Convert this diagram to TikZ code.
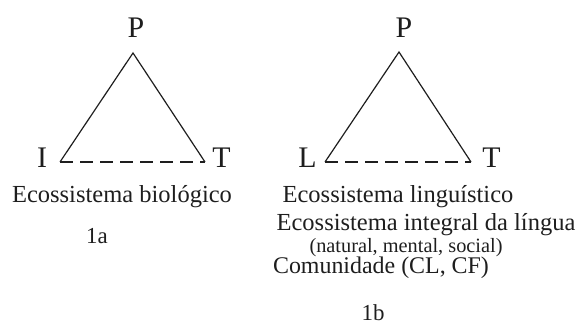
\documentclass[tikz,border=0pt]{standalone}
\usepackage{fontspec}
\setmainfont{Liberation Serif}
\usepackage{tikz}
\usetikzlibrary{positioning}
\usepackage{xcolor}
\definecolor{ink}{RGB}{30,30,30}

\begin{document}
\begin{tikzpicture}[
    x=1bp, y=1bp,
    vlabel/.style={inner sep=0pt, text=ink, font=\fontsize{15}{17}\selectfont},
    caption/.style={inner sep=0pt, anchor=base, text=ink, font=\fontsize{12.3}{14}\selectfont},
    small/.style={inner sep=0pt, anchor=base, text=ink, font=\fontsize{10.2}{12}\selectfont},
    tag/.style={inner sep=0pt, anchor=base, text=ink, font=\fontsize{11.5}{13}\selectfont},
    side/.style={draw=ink, line width=0.6bp},
    base/.style={draw=ink, line width=0.6bp, dash pattern=on 6.5bp off 3.5bp}
]
    \useasboundingbox (0,0) rectangle (291,161.5);

    % 1a: ecossistema biologico
    \coordinate (pa) at (66.5,135);
    \coordinate (ia) at (30,80.5);
    \coordinate (ta) at (102.5,80.5);
    \node[vlabel, anchor=base] (lpa) at (68,143) {P};
    \node[vlabel, anchor=base east] (lia) at (23.8,78) {I};
    \node[vlabel, anchor=base west] (lta) at (106,78) {T};
    \node[caption] (bio) at (61,60.5) {Ecossistema biológico};
    \node[tag] (ca) at (48.5,40) {1a};

    \draw[side] (ia) -- (pa) -- (ta);
    \draw[base] (ia) -- (ta);

    % 1b: ecossistema linguistico
    \coordinate (pb) at (199.5,135.5);
    \coordinate (lb) at (162.5,80.5);
    \coordinate (tb) at (235.5,80.5);
    \node[vlabel, anchor=base] (lpb) at (202,143) {P};
    \node[vlabel, anchor=base east] (llb) at (158.5,78) {L};
    \node[vlabel, anchor=base west] (ltb) at (241,78) {T};
    \node[caption] (ling) at (199,60.5) {Ecossistema linguístico};
    \node[caption] (integ) at (213,46.5) {Ecossistema integral da língua};
    \node[small] (nms) at (203,35.5) {(natural, mental, social)};
    \node[caption, font=\fontsize{12}{14}\selectfont] (comu) at (190.5,25) {Comunidade (CL, CF)};
    \node[tag] (cb) at (186.5,1.5) {1b};

    \draw[side] (lb) -- (pb) -- (tb);
    \draw[base] (lb) -- (tb);
\end{tikzpicture}
\end{document}
